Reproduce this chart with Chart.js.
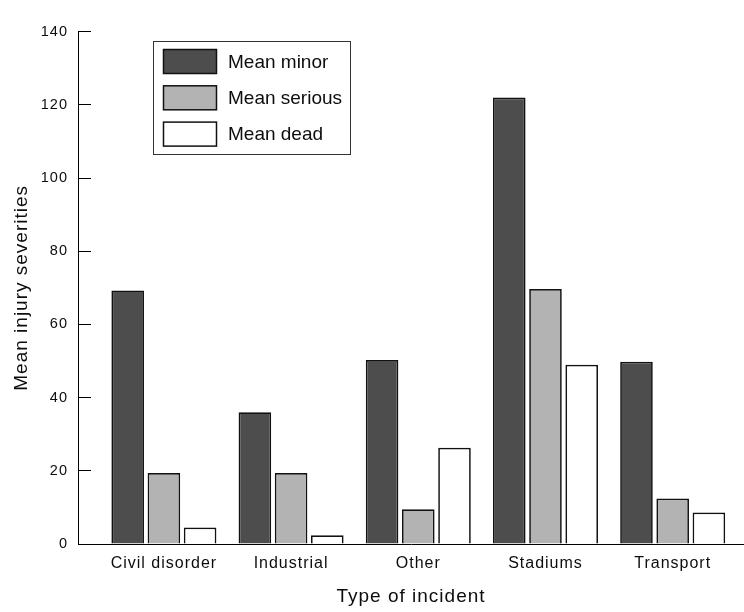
<!DOCTYPE html>
<html>
<head>
<meta charset="utf-8">
<script src="https://cdn.jsdelivr.net/npm/chart.js@4.4.1/dist/chart.umd.min.js"></script>
<style>
  html, body { margin: 0; padding: 0; background: #fff; }
  .GraficoLesoes { width: 744px; height: 612px; position: relative; }
</style>
</head>
<body>
<div class="GraficoLesoes"><canvas id="GraficoLesoes"></canvas></div>
<script>
// values
var incidentTypes = ['Civil disorder', 'Industrial', 'Other', 'Stadiums', 'Transport'];
var seriesNames = ['Mean minor', 'Mean serious', 'Mean dead'];
var meanMinor = [69.3, 36.0, 50.3, 122.0, 49.8];
var meanSerious = [19.4, 19.4, 9.5, 69.7, 12.4];
var meanDead = [4.5, 2.4, 26.3, 49.0, 8.6];
var yTicks = [0, 20, 40, 60, 80, 100, 120, 140];

var fillColours = ['#4d4d4d', '#b3b3b3', '#ffffff'];
var textColour = '#0d0d0d';
var fontFamily = '"Liberation Sans", Arial, Helvetica, sans-serif';

Chart.defaults.font.family = fontFamily;
Chart.defaults.color = textColour;

function MakePoints (values) {
    return values.map(function (v, i) { return { x: i, y: v }; });
}

function MakeDataset (name, values, colour) {
    return {
        label: name,
        data: MakePoints(values),
        backgroundColor: colour,
        borderColor: '#111',
        borderWidth: 1.7,
        categoryPercentage: 0.854,
        barPercentage: 0.9
    };
}

// the figure's text is a little tracked out
var trackedText = {
    id: 'trackedText',
    beforeLayout: function (chart) { chart.ctx.letterSpacing = '1px'; },
    beforeDraw: function (chart) { chart.ctx.letterSpacing = '1px'; }
};

// boxed legend inside the plot, like the original
var boxLegend = {
    id: 'boxLegend',
    afterDraw: function (chart, args, opts) {
        var ctx = chart.ctx;
        ctx.save();
        ctx.letterSpacing = '0px';
        ctx.lineWidth = 1;
        ctx.strokeStyle = '#333';
        ctx.strokeRect(opts.x + 0.5, opts.y + 0.5, opts.width, opts.height);
        chart.data.datasets.forEach(function (ds, i) {
            var top = opts.y + opts.firstRow + i * opts.rowGap;
            var left = opts.x + opts.swatchLeft;
            ctx.fillStyle = ds.backgroundColor;
            ctx.fillRect(left, top, opts.swatchWidth, opts.swatchHeight);
            ctx.lineWidth = 1.5;
            ctx.strokeStyle = ds.borderColor;
            ctx.strokeRect(left, top, opts.swatchWidth, opts.swatchHeight);
            ctx.fillStyle = textColour;
            ctx.font = '19px ' + fontFamily;
            ctx.textBaseline = 'middle';
            ctx.textAlign = 'left';
            ctx.fillText(ds.label, opts.x + opts.textLeft, top + opts.swatchHeight / 2 + 1);
        });
        ctx.restore();
    }
};

var ctx = document.getElementById('GraficoLesoes').getContext('2d');

var grafico = new Chart(ctx, {
    type: 'bar',
    data: {
        datasets: [
            MakeDataset(seriesNames[0], meanMinor, fillColours[0]),
            MakeDataset(seriesNames[1], meanSerious, fillColours[1]),
            MakeDataset(seriesNames[2], meanDead, fillColours[2])
        ]
    },
    plugins: [trackedText, boxLegend],
    options: {
        responsive: true,
        maintainAspectRatio: false,
        animation: false,
        layout: { padding: { top: 17, right: 0, bottom: 0, left: 0 } },
        plugins: {
            legend: { display: false },
            tooltip: { enabled: false },
            boxLegend: {
                x: 153, y: 41, width: 197, height: 113,
                swatchLeft: 10.5, firstRow: 8.5, rowGap: 36.3,
                swatchWidth: 53, swatchHeight: 24, textLeft: 75
            }
        },
        scales: {
            x: {
                type: 'linear',
                offset: false,
                min: -0.6753,
                max: 4.5607,
                afterFit: function (scale) { scale.height = 68; },
                grid: { display: false, drawTicks: false, offset: false },
                border: { display: true, color: '#000', width: 1 },
                ticks: {
                    stepSize: 1,
                    includeBounds: false,
                    autoSkip: false,
                    maxRotation: 0,
                    padding: 10,
                    font: { size: 16 },
                    callback: function (value) {
                        return incidentTypes[value] || '';
                    }
                },
                title: {
                    display: true,
                    text: 'Type of incident',
                    font: { size: 19 },
                    padding: { top: 0, bottom: 4 }
                }
            },
            y: {
                min: 0,
                max: 140,
                afterFit: function (scale) { scale.width = 78; },
                afterBuildTicks: function (scale) {
                    scale.ticks = yTicks.map(function (v) { return { value: v }; });
                },
                grid: {
                    drawOnChartArea: false,
                    drawTicks: true,
                    tickLength: -13,
                    color: '#000',
                    lineWidth: 1
                },
                border: { display: true, color: '#000', width: 1 },
                ticks: {
                    padding: 23,
                    font: { size: 14.5 }
                },
                title: {
                    display: true,
                    text: 'Mean injury severities',
                    font: { size: 19 },
                    padding: { top: 10, bottom: 0 }
                }
            }
        }
    }
});
</script>
</body>
</html>
